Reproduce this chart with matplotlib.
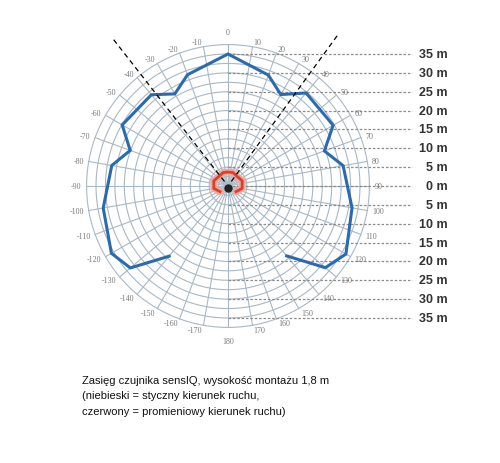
import numpy as np
import matplotlib
matplotlib.use('Agg')
import matplotlib.pyplot as plt

plt.rcParams['font.family'] = ['Liberation Sans', 'DejaVu Sans']

# blue = tangential direction of motion (angle in deg, range in m)
blue_angle = [-140, -130, -120, -100, -80, -70, -60, -40, -30, -20, -10, 0,
              20, 30, 40, 60, 70, 80, 100, 120, 130, 140]
blue_range = [24.3, 33.8, 35.7, 33.6, 31.3, 27.6, 32.4, 31.6, 28.2, 31.4, 32.6, 35.0,
              31.3, 28.0, 32.2, 32.2, 27.2, 31.0, 33.4, 36.1, 33.7, 24.2]

# red = radial direction of motion
red_angle = [-125, -100, -70, -40, -20, 0, 20, 40, 70, 100, 125]
red_range = [2.6, 3.8, 4.0, 3.5, 3.8, 3.7, 3.8, 3.5, 4.0, 3.8, 2.6]

# detection field borders
field_angle = [-38, 36]

dist_marks = [35, 30, 25, 20, 15, 10, 5, 0, -5, -10, -15, -20, -25, -30, -35]
angle_ticks = list(range(-170, 190, 10))

caption = ['Zasięg czujnika sensIQ, wysokość montażu 1,8 m',
           '(niebieski = styczny kierunek ruchu,',
           'czerwony = promieniowy kierunek ruchu)']


def to_xy(ang, r):
    a = np.radians(np.asarray(ang, dtype=float))
    r = np.asarray(r, dtype=float)
    return r * np.sin(a), r * np.cos(a)


px = 3.771  # pixels per metre
fig = plt.figure(figsize=(5, 4.64), dpi=100)
ax = fig.add_axes([0, 0, 1, 1])
ax.set_xlim(-228 / px, (500 - 228) / px)
ax.set_ylim(-(464 - 187) / px, 187 / px)
ax.axis('off')

grid_col = '#a9b8c5'
t = np.linspace(0, 2 * np.pi, 361)
for rc in np.arange(2.5, 37.6, 2.5):
    ax.plot(rc * np.sin(t), rc * np.cos(t), color=grid_col, lw=0.8, zorder=1)
for a in range(0, 360, 10):
    x, y = to_xy([a, a], [0, 37.5])
    ax.plot(x, y, color=grid_col, lw=0.8, zorder=1)

for ang in angle_ticks:
    if ang in (0, 180):
        x, y = to_xy(ang, 40.8 if ang == 0 else 41.0)
        ha = 'center'
    else:
        x, y = to_xy(ang, 38.8)
        ha = 'left' if ang > 0 else 'right'
    ax.text(x, y, str(ang), fontsize=5.8, color='#7a7a7a', ha=ha, va='center',
            family=['Liberation Serif', 'DejaVu Serif'])

# horizontal distance lines
for d in dist_marks:
    ax.plot([0, 48.8], [d, d], color='#8a8a8a', lw=0.9, ls=(0, (2, 1.5)), zorder=2)
    ax.text(58.2, d, f'{abs(d)} m', fontsize=9, fontweight='bold', color='#333333',
            ha='right', va='center')

for a in field_angle:
    x, y = to_xy([a, a], [1.5, 50])
    ax.plot(x, y, color='black', lw=0.9, ls=(0, (4, 3)), zorder=4)

ax.plot(0, -0.4, 'o', color='#222222', ms=5, zorder=5)

rx, ry = to_xy(red_angle, red_range)
ax.plot(rx, ry, color='#f0a89c', lw=5, zorder=3, solid_capstyle='round')
ax.plot(rx, ry, color='#d9402f', lw=2, zorder=3)

bx, by = to_xy(blue_angle, blue_range)
ax.plot(bx, by, color='#2c6aae', lw=2.2, zorder=3, solid_joinstyle='miter')

for i, line in enumerate(caption):
    fig.text(82 / 500, 1 - (381 + 15.5 * i) / 464, line, fontsize=8,
             color='#111111', ha='left', va='center')

fig.savefig('out.png', dpi=100)
